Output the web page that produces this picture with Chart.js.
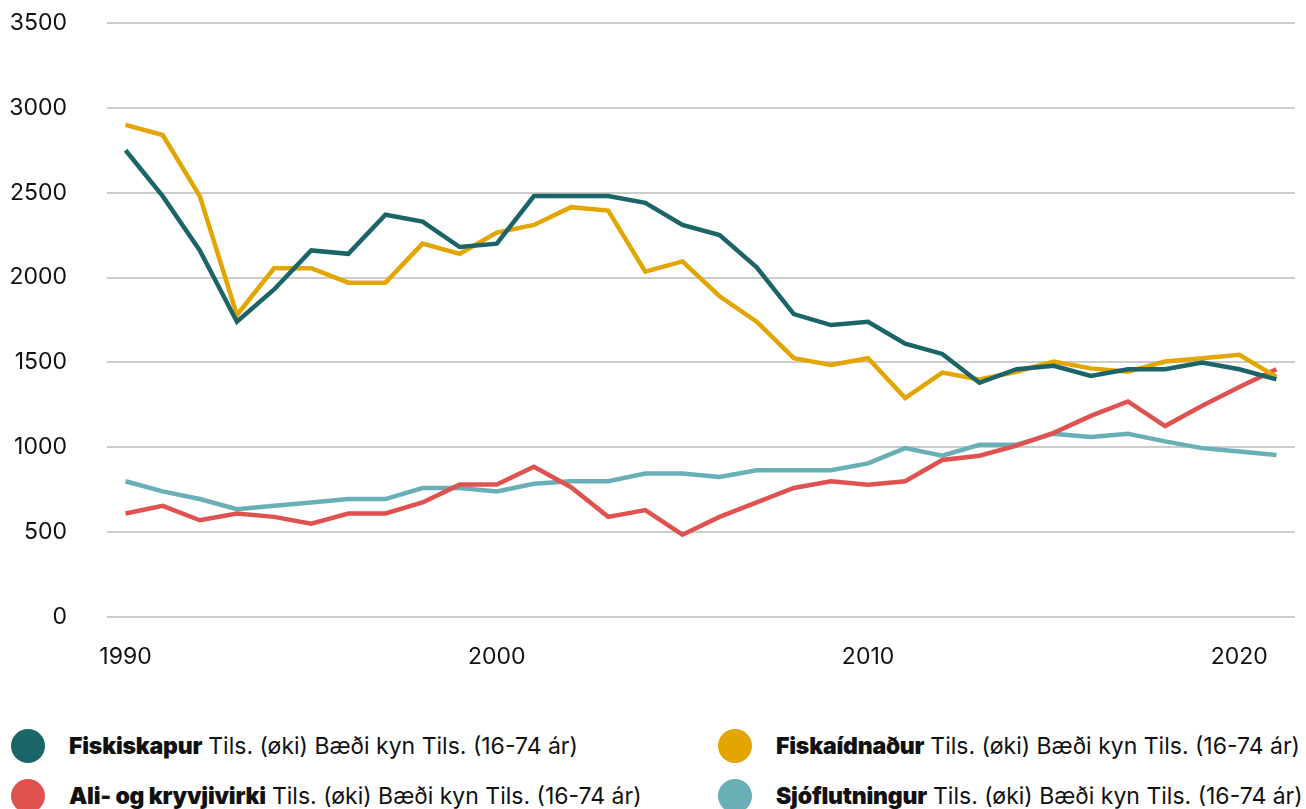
<!DOCTYPE html>
<html>
<head>
<meta charset="utf-8">
<script src="https://cdn.jsdelivr.net/npm/chart.js@4"></script>
<style>
  html, body { margin:0; padding:0; background:#fff; }
  body { width:1306px; height:809px; overflow:hidden; font-family: Inter, "Noto Sans", sans-serif; color:#111; }
  #wrap { position:relative; width:1306px; height:680px; }
  #legend { position:absolute; left:0; top:721px; width:1306px; }
  .row { display:flex; height:50px; align-items:center; }
  .item { display:flex; align-items:center; font-size:23px; white-space:nowrap; }
  .item.l { width:718px; padding-left:11px; box-sizing:border-box; }
  .dot { width:34px; height:34px; border-radius:50%; margin-right:24px; flex:none; }
  .item b { font-weight:900; margin-right:6px; letter-spacing:-0.2px; }
</style>
</head>
<body>
<div id="wrap"><canvas id="chart"></canvas></div>
<div id="legend"></div>
<script>
// data
const years = ['1990','1991','1992','1993','1994','1995','1996','1997','1998','1999','2000','2001','2002','2003','2004','2005','2006','2007','2008','2009','2010','2011','2012','2013','2014','2015','2016','2017','2018','2019','2020','2021'];
const tickYears = ['1990','2000','2010','2020'];
const fiskiskapur = [2750,2480,2160,1740,1930,2160,2140,2370,2330,2180,2200,2480,2480,2480,2440,2310,2250,2060,1785,1720,1740,1610,1550,1380,1460,1480,1420,1460,1460,1500,1460,1400];
const fiskaidnadur = [2900,2840,2480,1780,2055,2055,1970,1970,2200,2140,2265,2310,2415,2395,2035,2095,1890,1740,1525,1485,1525,1290,1440,1400,1445,1505,1465,1445,1505,1525,1545,1415];
const aliOgKryvjivirki = [610,655,570,610,590,550,610,610,675,780,780,885,765,590,630,485,590,675,760,800,780,800,925,950,1010,1085,1185,1270,1125,1245,1355,1460];
const sjoflutningur = [800,740,695,635,655,675,695,695,760,760,740,785,800,800,845,845,825,865,865,865,905,995,950,1015,1015,1080,1060,1080,1035,995,975,955];
const seriesNames = ['Fiskiskapur','Fiskaídnaður','Ali- og kryvjivirki','Sjóflutningur'];
const seriesColors = ['#1b6569','#e3a500','#e0524f','#69afb6'];
const suffix = 'Tils. (øki) Bæði kyn Tils. (16-74 ár)';

const series = [fiskiskapur, fiskaidnadur, aliOgKryvjivirki, sjoflutningur];
const datasets = series.map((d, i) => ({
  label: seriesNames[i] + ' ' + suffix,
  data: d,
  borderColor: seriesColors[i],
  backgroundColor: seriesColors[i],
  borderWidth: 4.5,
  pointRadius: 0,
  tension: 0
}));

const font = { family: 'Inter, "Noto Sans", sans-serif', size: 23 };

new Chart(document.getElementById('chart').getContext('2d'), {
  type: 'line',
  data: { labels: years, datasets },
  options: {
    responsive: true,
    maintainAspectRatio: false,
    animation: false,
    layout: { padding: { top: 23, right: 11, left: 0, bottom: 0 } },
    plugins: { legend: { display: false }, tooltip: { enabled: false } },
    scales: {
      x: {
        offset: true,
        grid: { display: false, drawTicks: false },
        border: { display: false },
        afterFit: s => { s.height = 63; s.paddingLeft = 0; s.paddingRight = 0; },
        ticks: {
          color: '#111', font, padding: 26, maxRotation: 0, autoSkip: false,
          callback: function(v) { const l = this.getLabelForValue(v); return tickYears.includes(l) ? l : null; }
        }
      },
      y: {
        min: 0, max: 3500,
        grid: { color: '#cccccc', lineWidth: 2, drawTicks: false },
        border: { display: false },
        afterFit: s => { s.width = 107; s.paddingTop = 0; s.paddingBottom = 0; },
        ticks: { stepSize: 500, color: '#111', font, padding: 40, callback: v => String(v) }
      }
    }
  }
});

// html legend, two columns
const legend = document.getElementById('legend');
for (let r = 0; r < 2; r++) {
  const row = document.createElement('div');
  row.className = 'row';
  [r * 2, r * 2 + 1].forEach((i, c) => {
    const it = document.createElement('div');
    it.className = 'item' + (c === 0 ? ' l' : '');
    it.innerHTML = '<span class="dot" style="background:' + seriesColors[i] + '"></span><b>' + seriesNames[i] + '</b>' + suffix;
    row.appendChild(it);
  });
  legend.appendChild(row);
}
</script>
</body>
</html>
